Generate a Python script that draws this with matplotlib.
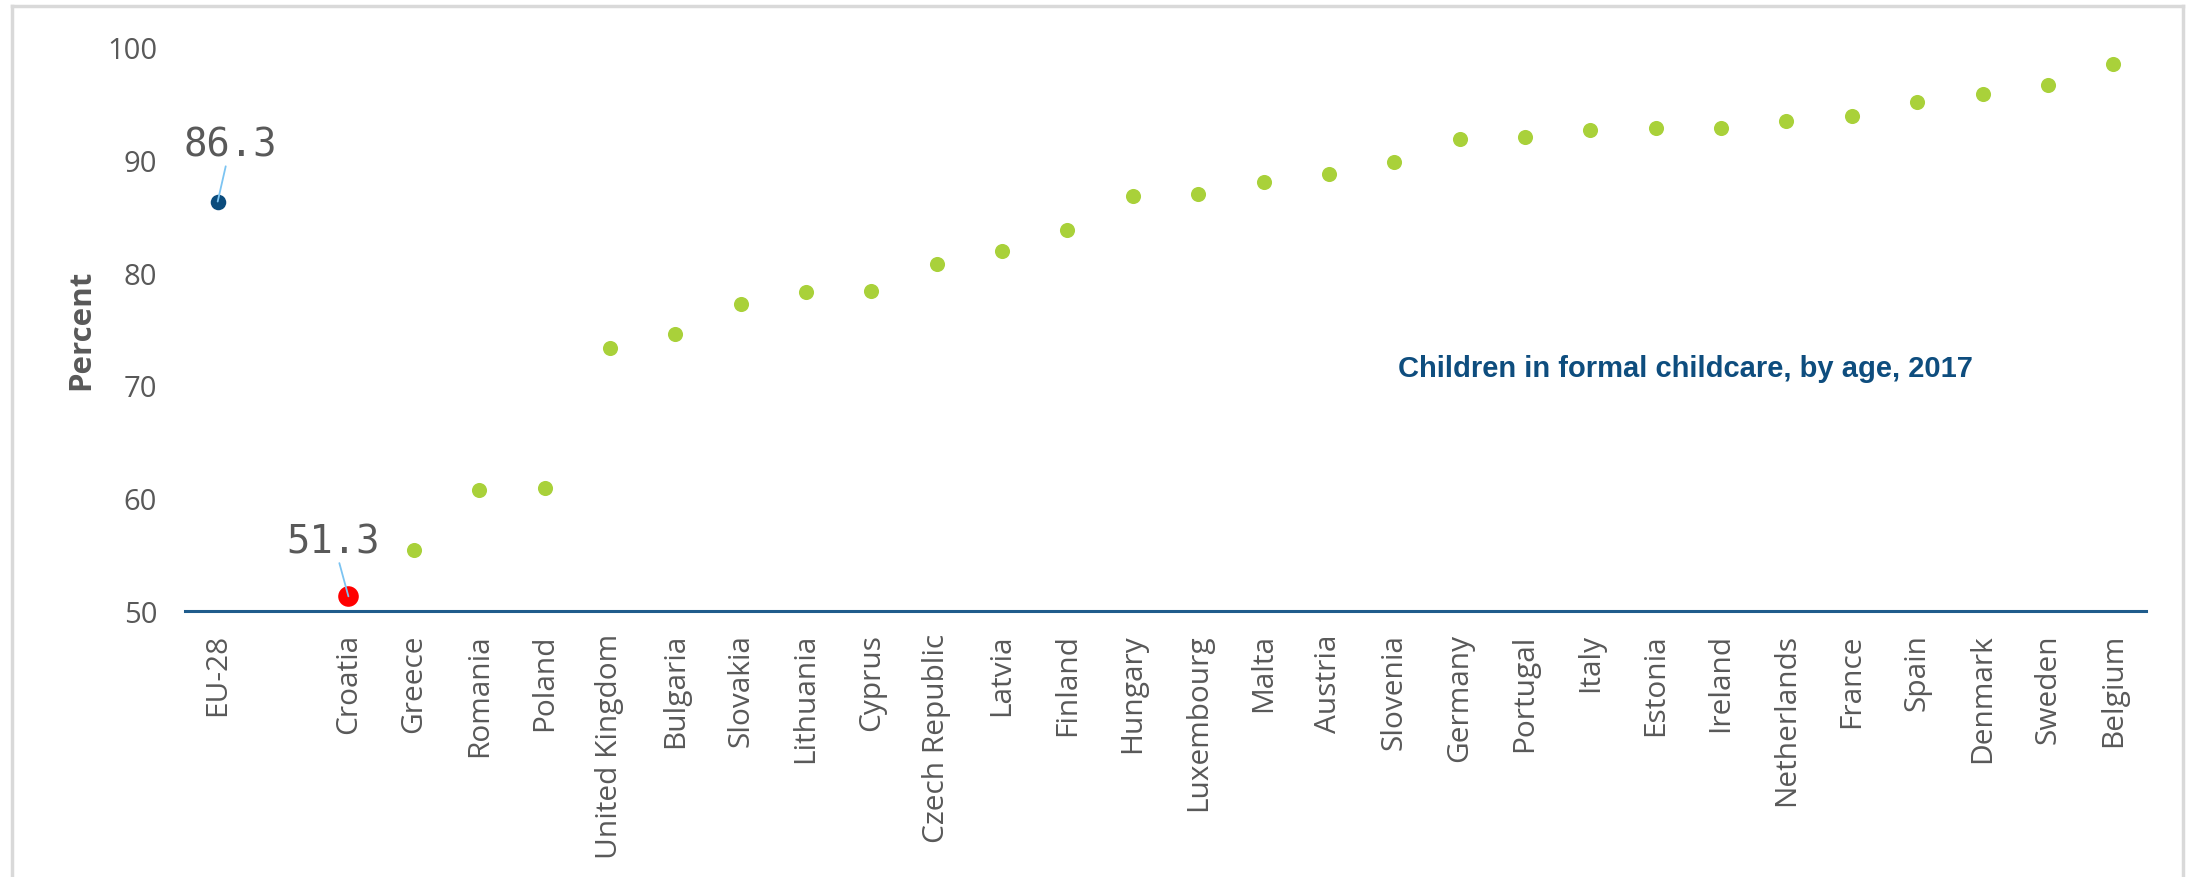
import matplotlib
matplotlib.use("Agg")
import matplotlib.pyplot as plt
from matplotlib.lines import Line2D

# ---- data ----
eu_label = "EU-28"
eu_value = 86.3
countries = ["Croatia", "Greece", "Romania", "Poland", "United Kingdom", "Bulgaria",
             "Slovakia", "Lithuania", "Cyprus", "Czech Republic", "Latvia", "Finland",
             "Hungary", "Luxembourg", "Malta", "Austria", "Slovenia", "Germany",
             "Portugal", "Italy", "Estonia", "Ireland", "Netherlands", "France",
             "Spain", "Denmark", "Sweden", "Belgium"]
values = [51.3, 55.4, 60.7, 60.9, 73.3, 74.6,
          77.2, 78.3, 78.4, 80.8, 81.9, 83.8,
          86.8, 87.0, 88.0, 88.7, 89.8, 91.8,
          92.0, 92.6, 92.8, 92.8, 93.4, 93.9,
          95.1, 95.8, 96.6, 98.5]
highlight = "Croatia"
y_ticks = [50, 60, 70, 80, 90, 100]
chart_title = "Children in formal childcare, by age, 2017"
y_label = "Percent"

# ---- figure ----
W, H, DPI = 2188, 878, 100
fig = plt.figure(figsize=(W / DPI, H / DPI), dpi=DPI)
fig.patch.set_facecolor("white")

left, right, bottom, top = 185, 2146, 612, 48
ax = fig.add_axes([left / W, 1 - bottom / H, (right - left) / W, (bottom - top) / H])

categories = [eu_label, ""] + countries
xpos = list(range(len(categories)))
ax.set_xlim(-0.5, len(categories) - 0.5)
ax.set_ylim(50, 100)

green = "#A9D13A"
navy = "#0B4C7D"
red = "#FF0000"
grey = "#595959"
leader = "#7CC4F2"

c_x = [xpos[2 + i] for i in range(len(countries))]
others_x = [x for x, c in zip(c_x, countries) if c != highlight]
others_y = [v for v, c in zip(values, countries) if c != highlight]
hi_idx = countries.index(highlight)
hi_x, hi_y = c_x[hi_idx], values[hi_idx]

ax.scatter(others_x, others_y, s=118, color=green, zorder=3, linewidths=0)
ax.scatter([hi_x], [hi_y], s=220, color=red, zorder=3, linewidths=0)
ax.scatter([xpos[0]], [eu_value], s=125, color=navy, zorder=3, linewidths=0)

# data labels with leader lines
ax.annotate(f"{eu_value:.1f}", xy=(xpos[0], eu_value), xytext=(13, 38),
            textcoords="offset pixels", ha="center", va="bottom",
            fontsize=28, color=grey, family="DejaVu Sans Mono",
            arrowprops=dict(arrowstyle="-", color=leader, lw=1.3,
                            shrinkA=0, shrinkB=0))
ax.annotate(f"{hi_y:.1f}", xy=(hi_x, hi_y), xytext=(-15, 36),
            textcoords="offset pixels", ha="center", va="bottom",
            fontsize=28, color=grey, family="DejaVu Sans Mono",
            arrowprops=dict(arrowstyle="-", color=leader, lw=1.3,
                            shrinkA=0, shrinkB=0))

# axes styling
for s in ["top", "right", "left"]:
    ax.spines[s].set_visible(False)
ax.spines["bottom"].set_color("#1F5C8C")
ax.spines["bottom"].set_linewidth(2.2)
ax.spines["bottom"].set_zorder(2)

ax.set_xticks(xpos)
ax.set_xticklabels(categories, rotation=90, fontsize=21.5, color=grey,
                   family="Open Sans")
ax.set_yticks(y_ticks)
ax.set_yticklabels([str(t) for t in y_ticks], fontsize=21, color=grey,
                   family="Open Sans")
ax.tick_params(axis="x", length=0, pad=16)
ax.tick_params(axis="y", length=0, pad=20)

fig.text(81 / W, 1 - 330 / H, y_label, rotation=90, ha="center", va="center",
         fontsize=22.5, color=grey, fontweight="bold", family="Open Sans")

fig.text(1685 / W, 1 - 369 / H, chart_title, ha="center", va="center",
         fontsize=21, fontweight="bold", color="#0E4D7E",
         family="Liberation Sans")

# outer light border (left, top, right)
bc = "#D9D9D9"
fig.add_artist(Line2D([12 / W, 12 / W], [0, 1 - 7 / H], color=bc, lw=2.5,
                      transform=fig.transFigure))
fig.add_artist(Line2D([12 / W, 2183 / W], [1 - 7 / H, 1 - 7 / H], color=bc,
                      lw=2.5, transform=fig.transFigure))
fig.add_artist(Line2D([2183 / W, 2183 / W], [0, 1 - 7 / H], color=bc, lw=2.5,
                      transform=fig.transFigure))

fig.savefig("out.png", dpi=DPI)
